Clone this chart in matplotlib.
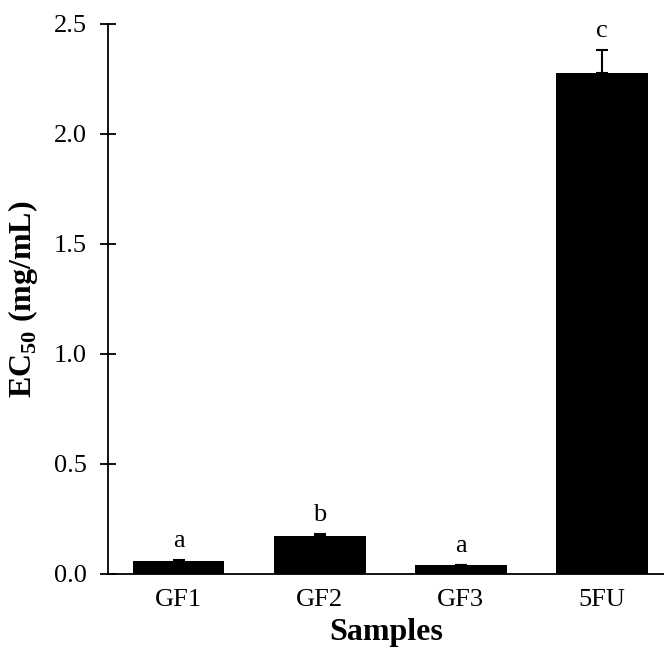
import matplotlib
matplotlib.use("Agg")
import matplotlib.pyplot as plt
import numpy as np

plt.rcParams['font.family'] = ['Liberation Serif', 'DejaVu Serif']
plt.rcParams['mathtext.fontset'] = 'custom'
plt.rcParams['mathtext.rm'] = 'Liberation Serif'
plt.rcParams['mathtext.bf'] = 'Liberation Serif:bold'

samples = ["GF1", "GF2", "GF3", "5FU"]
ec50 = [0.06, 0.172, 0.04, 2.277]
err = [0.004, 0.01, 0.003, 0.105]
letters = ["a", "b", "a", "c"]

fig = plt.figure(figsize=(6.64, 6.51), dpi=100)
ax = fig.add_axes([108/664, 1 - 574/651, (664 - 108)/664, (574 - 24)/651])

x = np.arange(len(samples))
ax.bar(x, ec50, width=0.65, color="black", zorder=2)
ax.errorbar(x, ec50, yerr=[np.zeros(len(err)), err], fmt="none",
            ecolor="black", elinewidth=1.5, capsize=4, capthick=1.5, zorder=3)

for xi, v, e, l in zip(x, ec50, err, letters):
    ax.text(xi, v + e + 0.035, l, ha="center", va="bottom", fontsize=19)

ax.set_xlim(-0.5, 3.44)
ax.set_ylim(0, 2.5)
ax.set_yticks(np.arange(0, 2.51, 0.5))
ax.set_yticklabels(["%.1f" % t for t in np.arange(0, 2.51, 0.5)])
ax.set_xticks(x)
ax.set_xticklabels(samples)
ax.tick_params(axis="y", direction="inout", length=12, width=1.3, labelsize=19, pad=9)
ax.tick_params(axis="x", length=0, labelsize=19, pad=11)

for s in ["top", "right"]:
    ax.spines[s].set_visible(False)
ax.spines["left"].set_linewidth(1.3)
ax.spines["bottom"].set_linewidth(1.3)

ax.set_xlabel("Samples", fontsize=23, fontweight="bold", labelpad=5)
ax.set_ylabel(r"EC$_{\mathbf{50}}$ (mg/mL)", fontsize=23, fontweight="bold", labelpad=10)

fig.savefig("out.png", dpi=100)
